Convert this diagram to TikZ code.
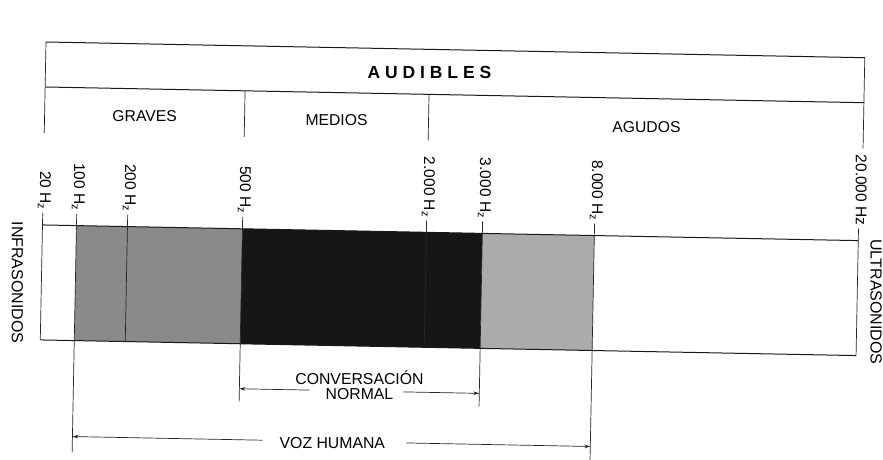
\documentclass[tikz,border=0pt]{standalone}
\usepackage{fontspec}
\setmainfont{Liberation Sans}
\usetikzlibrary{arrows.meta}
\definecolor{grayA}{HTML}{8A8A8A}
\definecolor{grayB}{HTML}{161616}
\definecolor{grayC}{HTML}{ABABAB}
\begin{document}
\begin{tikzpicture}[x=1pt,y=-1pt,
  ln/.style={line width=1pt,black!90},
  thin/.style={line width=0.7pt,black!85},
  lbl/.style={font=\fontsize{15.5}{16}\selectfont,inner sep=0pt,rotate=-90,anchor=mid east},
  sect/.style={font=\fontsize{15.7}{16}\selectfont,inner sep=0pt},
  side/.style={font=\fontsize{16}{17}\selectfont,rotate=-90,inner sep=0pt},
  arr/.style={line width=0.7pt,black!85,-{Stealth[length=6pt,width=3.5pt]}},
  txt/.style={font=\fontsize{15.8}{15}\selectfont,inner sep=0pt,align=center}]
\useasboundingbox (0,0) rectangle (883,459);
\fill[white] (0,0) rectangle (883,459);
\begin{scope}[rotate around={-1.1:(46,42)}]
  % upper box
  \coordinate (tl) at (46,42);
  \coordinate (tr) at (865,42);
  \coordinate (ml) at (46,87);
  \coordinate (mr) at (865,87);
  \coordinate (bl) at (46,133);
  \coordinate (br) at (865,133);
  \draw[ln] (tl) -- (tr);
  \draw[ln] (ml) -- (mr);
  \draw[thin] (tl) -- (bl);
  \draw[thin] (tr) -- (br);
  \coordinate (d1t) at (246,87); \coordinate (d1b) at (246,133);
  \coordinate (d2t) at (430,87); \coordinate (d2b) at (430,133);
  \draw[thin] (d1t) -- (d1b);
  \draw[thin] (d2t) -- (d2b);
  \node[font=\fontsize{17.5}{18}\bfseries\addfontfeature{LetterSpace=28}\selectfont,inner sep=0pt] (aud) at (430,65) {AUDIBLES};
  \node[sect] (graves) at (146,114) {GRAVES};
  \node[sect] (medios) at (338,115) {MEDIOS};
  \node[sect] (agudos) at (648,116) {AGUDOS};
  % band fills
  \fill[grayA] (80,225) rectangle (246,340);
  \fill[grayB] (246,225) rectangle (486,340);
  \fill[grayC] (486,225) rectangle (598,340);
  % band outline
  \coordinate (b0t) at (46,225);  \coordinate (b0b) at (46,340);
  \coordinate (b1t) at (80,225);  \coordinate (b1b) at (80,340);
  \coordinate (b2t) at (131,225); \coordinate (b2b) at (131,340);
  \coordinate (b3t) at (246,225); \coordinate (b3b) at (246,340);
  \coordinate (b4t) at (430,225); \coordinate (b4b) at (430,340);
  \coordinate (b5t) at (486,225); \coordinate (b5b) at (486,340);
  \coordinate (b6t) at (598,225); \coordinate (b6b) at (598,340);
  \coordinate (b7t) at (862,225); \coordinate (b7b) at (862,340);
  \draw[ln] (b0t) -- (b7t);
  \draw[ln] (b0b) -- (b7b);
  \foreach \i in {0,...,7}{\draw[thin] (b\i t) -- (b\i b);}
  % ticks and labels
  \foreach \i/\x/\t in {0/46/{20 H$_\mathrm{z}$},1/80/{100 H$_\mathrm{z}$},2/131/{200 H$_\mathrm{z}$},3/246/{500 H$_\mathrm{z}$},4/430/{2.000 H$_\mathrm{z}$},5/486/{3.000 H$_\mathrm{z}$},6/598/{8.000 H$_\mathrm{z}$},7/862/{20.000 Hz}}{
    \coordinate (k\i) at (\x,213);
    \draw[thin] (k\i) -- (b\i t);
    \node[lbl] (f\i) at (\x,210) {\t};
  }
  % side labels
  \node[side] (infra) at (22,283) {INFRASONIDOS};
  \node[side] (ultra) at (881,286) {ULTRASONIDOS};
  % extension lines
  \coordinate (e3) at (246,398);
  \coordinate (e5) at (486,398);
  \coordinate (e1) at (80,452);
  \coordinate (e6) at (598,455);
  \draw[thin] (b3b) -- (e3);
  \draw[thin] (b5b) -- (e5);
  \draw[thin] (b1b) -- (e1);
  \draw[thin] (b6b) -- (e6);
  % conversacion normal
  \node[txt] (conv) at (366,379) {CONVERSACIÓN\\NORMAL};
  \coordinate (c3) at (246,385);
  \coordinate (c5) at (486,385);
  \coordinate (cl) at (316,385);
  \coordinate (cr) at (410,385);
  \draw[arr] (cl) -- (c3);
  \draw[arr] (cr) -- (c5);
  % voz humana
  \node[txt] (voz) at (340,437) {VOZ HUMANA};
  \coordinate (v1) at (80,436);
  \coordinate (v6) at (598,436);
  \coordinate (vl) at (270,436);
  \coordinate (vr) at (414,436);
  \draw[arr] (vl) -- (v1);
  \draw[arr] (vr) -- (v6);
\end{scope}
\end{tikzpicture}
\end{document}
